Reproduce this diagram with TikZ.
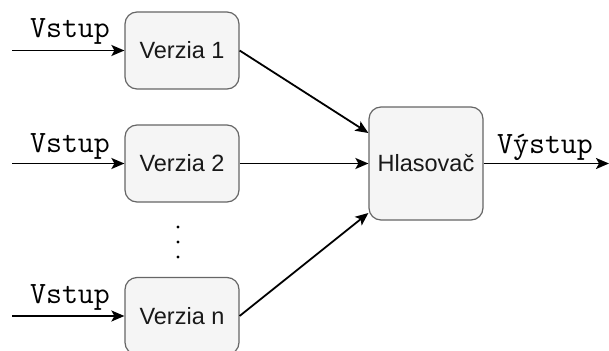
\documentclass[tikz,border=0pt]{standalone}
\usepackage{fontspec}
\setmainfont{Liberation Sans}
\usetikzlibrary{arrows.meta}
\definecolor{boxfill}{HTML}{F5F5F5}
\definecolor{boxline}{HTML}{666666}
\tikzset{
  verbox/.style={draw=boxline, fill=boxfill, line width=1.2pt, rounded corners=12pt,
    minimum width=114pt, minimum height=77pt, inner sep=0pt,
    font=\fontsize{23.5}{25}\selectfont, text=black!90},
  conn/.style={line width=1.8pt, -{Stealth[length=13pt,width=11pt,inset=3pt]}},
  lbl/.style={font=\ttfamily\fontsize{31}{32}\selectfont, anchor=base, inner sep=0pt}
}
\begin{document}
\begin{tikzpicture}[x=1pt,y=-1pt]
\useasboundingbox (0,0) rectangle (609,350);
\node[verbox] (v1) at (182,50.5) {Verzia 1};
\node[verbox] (v2) at (182,163.5) {Verzia 2};
\node[verbox] (vn) at (182,316) {Verzia n};
\node[verbox, minimum width=114pt, minimum height=113pt] (h) at (426,163.5) {Hlasovač};
\coordinate (i1) at (12,50.5);
\coordinate (i2) at (12,163.5);
\coordinate (i3) at (12,316);
\coordinate (o) at (609,163.5);
\draw[conn] (i1) -- (v1.west);
\draw[conn] (i2) -- (v2.west);
\draw[conn] (i3) -- (vn.west);
\node[lbl] (l1) at (70,38) {Vstup};
\node[lbl] (l2) at (70,152) {Vstup};
\node[lbl] (l3) at (70,303) {Vstup};
\draw[conn] (v1.east) -- (h.west |- 0,133);
\draw[conn] (v2.east) -- (h.west);
\draw[conn] (vn.east) -- (h.west |- 0,213);
\draw[conn] (h.east) -- (o);
\node[lbl] (lo) at (545,153) {Výstup};
\foreach \yy [count=\k] in {227,242,257} \fill (178,\yy) circle (1.6pt) coordinate (d\k);
\end{tikzpicture}
\end{document}
